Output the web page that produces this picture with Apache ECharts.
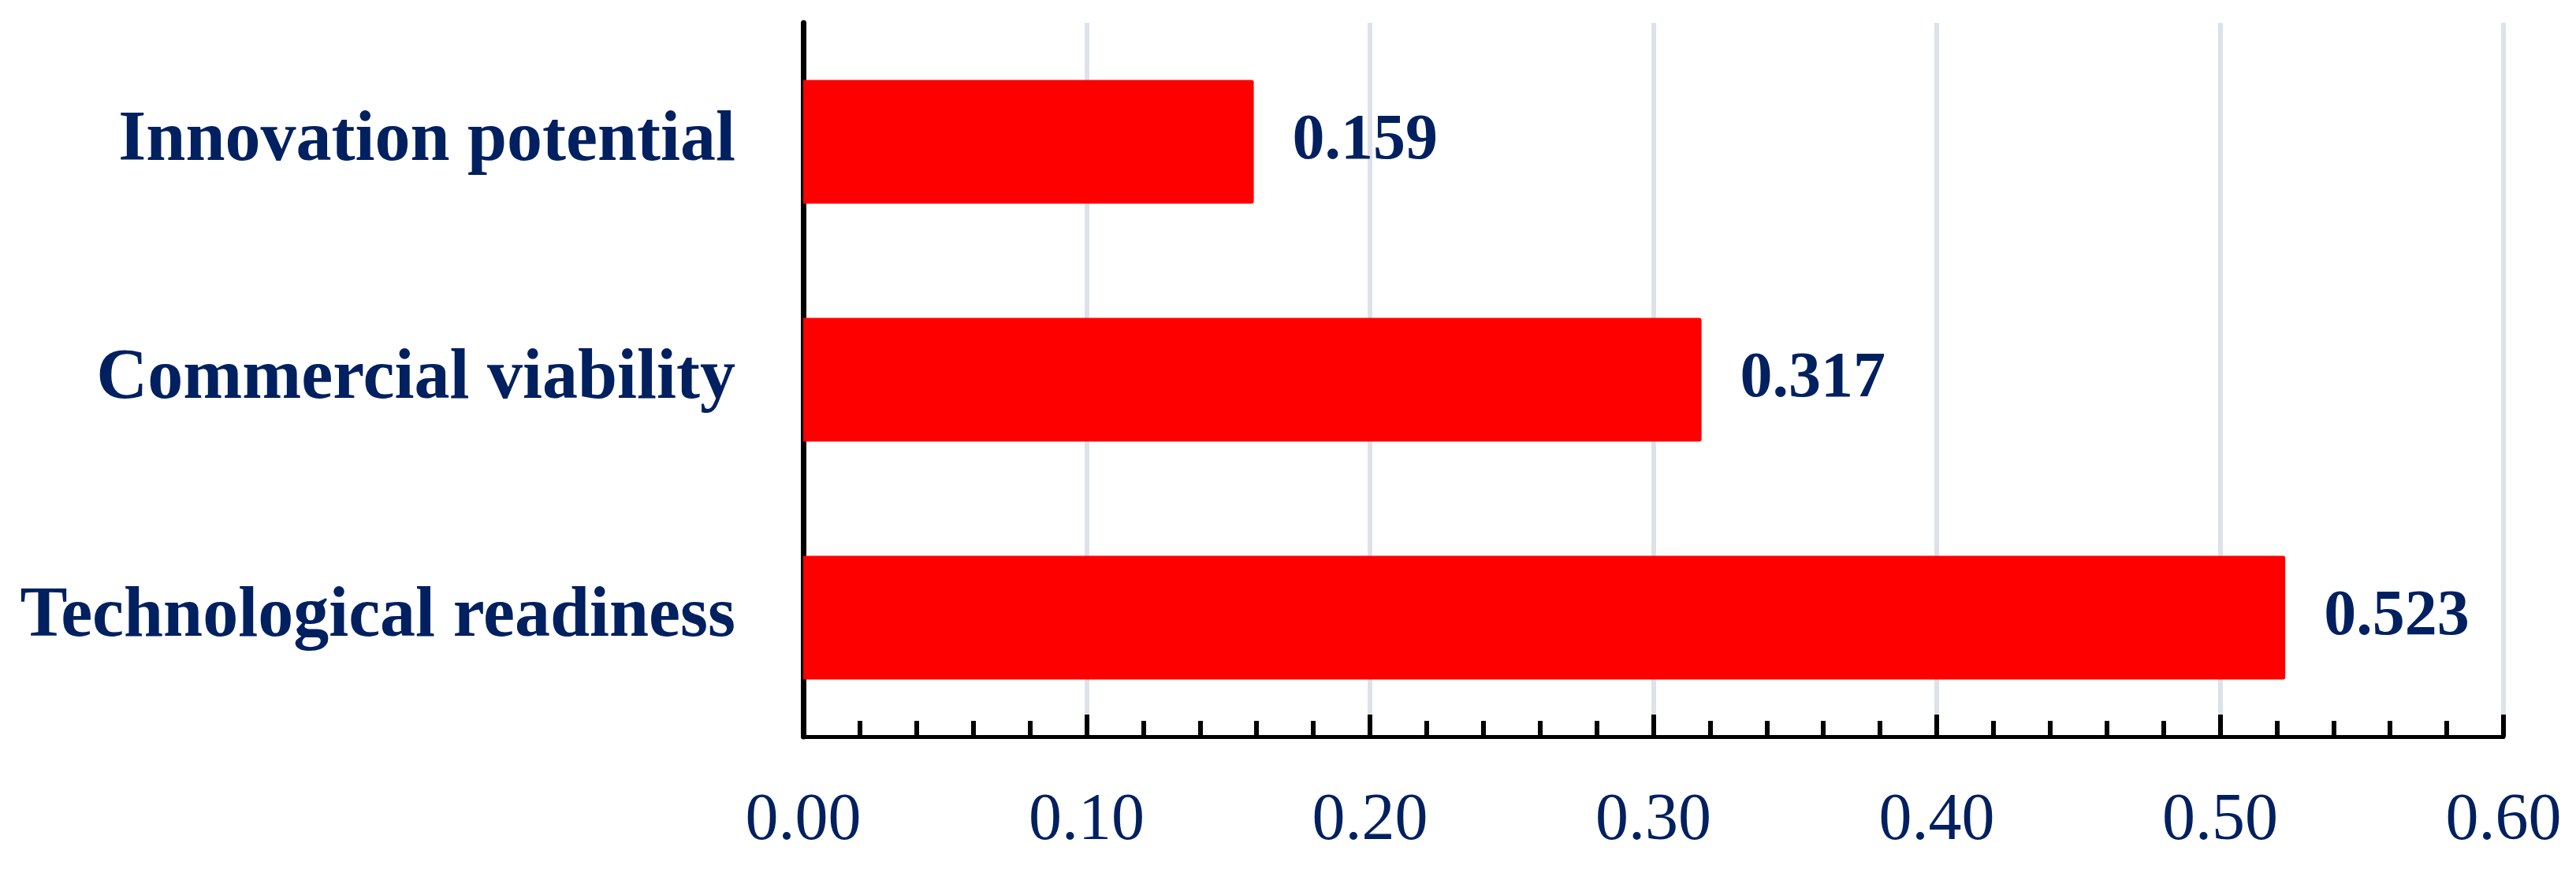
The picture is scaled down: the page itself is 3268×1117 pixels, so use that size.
<!DOCTYPE html>
<html>
<head>
<meta charset="utf-8">
<script src="https://cdn.jsdelivr.net/npm/echarts@6/dist/echarts.min.js"></script>
<style>
html,body{margin:0;padding:0;background:#fff;}
#chart{width:3268px;height:1117px;}
</style>
</head>
<body>
<div id="chart"></div>
<script>
const categories = ["Technological readiness", "Commercial viability", "Innovation potential"];
const values = [0.523, 0.317, 0.159];
const xTicks = { min: 0, max: 0.6, interval: 0.1 };

const navy = "#002060";
const font = "'Liberation Serif', 'Times New Roman', serif";

const chart = echarts.init(document.getElementById('chart'));
chart.setOption({
  animation: false,
  backgroundColor: '#ffffff',
  grid: { left: 1019, right: 92, top: 29, bottom: 182, containLabel: false },
  xAxis: {
    type: 'value',
    min: xTicks.min, max: xTicks.max, interval: xTicks.interval,
    axisLine: { show: true, lineStyle: { color: '#000', width: 5 } },
    axisTick: { show: true, inside: true, length: 28, lineStyle: { color: '#000', width: 6 } },
    minorTick: { show: true, splitNumber: 5, length: 20, lineStyle: { color: '#000', width: 6 } },
    splitLine: { show: true, lineStyle: { color: '#DDE2EA', width: 6 } },
    axisLabel: {
      color: navy, fontFamily: font, fontSize: 84, margin: 66,
      formatter: v => v.toFixed(2)
    }
  },
  yAxis: {
    type: 'category',
    data: categories,
    axisLine: { show: true, lineStyle: { color: '#000', width: 7 } },
    axisTick: { show: false },
    splitLine: { show: false },
    axisLabel: { color: navy, fontFamily: font, fontSize: 90, fontWeight: 'bold', margin: 86 }
  },
  series: [{
    type: 'bar',
    data: values,
    barWidth: '52%',
    itemStyle: { color: '#FF0000', borderRadius: [0, 3, 3, 0] },
    label: {
      show: true, position: 'right', distance: 49,
      color: navy, fontFamily: font, fontSize: 82, fontWeight: 'bold',
      formatter: p => p.value.toFixed(3)
    }
  }]
});
</script>
</body>
</html>
